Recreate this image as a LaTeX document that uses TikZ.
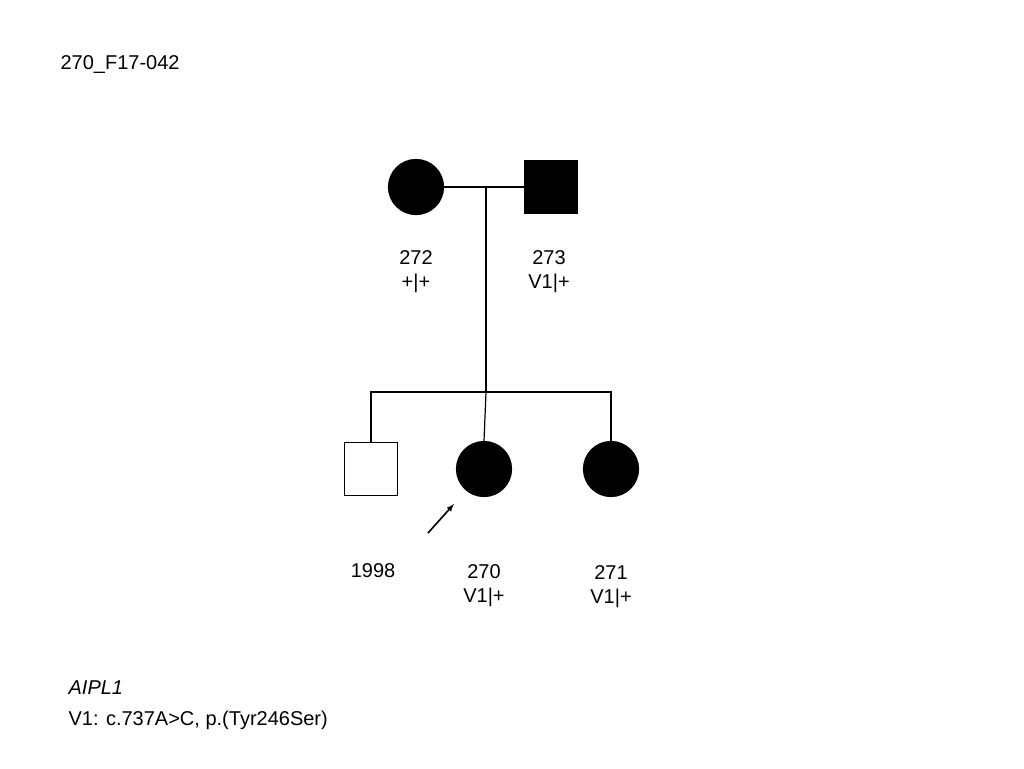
\documentclass[tikz,border=0pt]{standalone}
\usepackage{fontspec}
\setmainfont{Liberation Sans}
\begin{document}
\begin{tikzpicture}[x=1pt, y=-1pt, line width=1.2pt,
  female/.style={circle, draw, minimum size=55pt, inner sep=0pt},
  male/.style={rectangle, draw, minimum size=53pt, inner sep=0pt},
  affected/.style={fill=black},
  lbl/.style={font=\fontsize{20}{24}\selectfont, align=center, inner sep=0pt}]
	\useasboundingbox (0,0) rectangle (1024,768);
	\node[lbl, anchor=west] (title) at (60, 65) {270\_F17-042};
	% parents
	\node[female, affected] (p272) at (416, 187) {};
	\node[male, affected] (p273) at (551, 187) {};
	\coordinate (mar) at (486, 187);
	\coordinate (sib) at (486, 392);
	\draw (p272) -- (p273);
	\draw (mar) -- (sib);
	% children
	\node[male] (p1998) at (371, 469) {};
	\node[female, affected] (p270) at (484, 469) {};
	\node[female, affected] (p271) at (611, 469) {};
	\draw (p1998.north) |- (sib) -| (p271.north);
	\draw (sib) -- (p270.north);
	% labels
	\node[lbl] (l272) at (416, 272) {272\\+|+};
	\node[lbl] (l273) at (549, 272) {273\\V1|+};
	\node[lbl] (l1998) at (373, 571) {1998};
	\node[lbl] (l270) at (484, 586) {270\\V1|+};
	\node[lbl] (l271) at (611, 587) {271\\V1|+};
	% proband
	\coordinate (prb) at (428, 533);
	\draw[-latex, line width=1.6pt] (prb) -- (454, 504);
	\node[lbl, anchor=west] (gene) at (68, 688) {\itshape AIPL1};
	\node[lbl, anchor=west] (var) at (68, 720) {V1: c.737A>C, p.(Tyr246Ser)};
\end{tikzpicture}
\end{document}
